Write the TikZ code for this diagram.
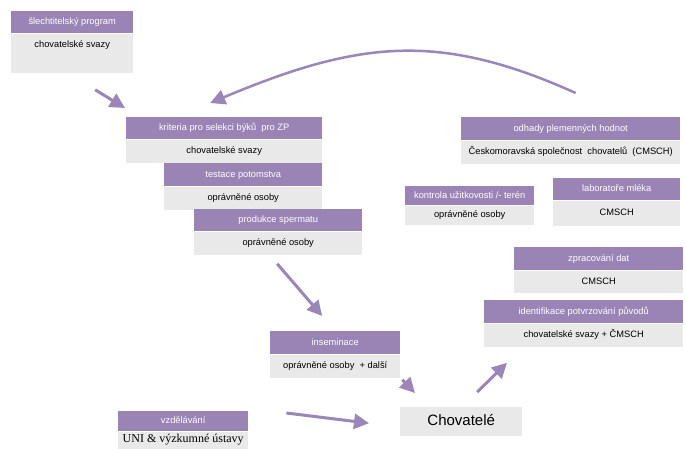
\documentclass[tikz,border=0pt]{standalone}
\usepackage{fontspec}
\setmainfont{Liberation Sans}
\newfontfamily\uniserif{Liberation Serif}
\usetikzlibrary{positioning,arrows.meta}
\definecolor{platehead}{HTML}{9A84B5}
\definecolor{platebody}{HTML}{E9E9E9}
\definecolor{arrowlila}{HTML}{9A86B8}
\tikzset{
    headbox/.style={fill=platehead, text=white, font=\fontsize{9.3}{11}\selectfont,
        inner sep=0pt, anchor=north west, minimum height=22pt, text height=7pt, text depth=2pt},
    bodybox/.style={fill=platebody, text=black, font=\fontsize{9.3}{11}\selectfont,
        inner sep=0pt, minimum height=23pt, text height=7pt, text depth=2pt},
    flow/.style={draw=arrowlila, line width=3pt, -{Triangle[length=15pt,width=15pt]}},
}
\begin{document}
\begin{tikzpicture}[x=1pt, y=-1pt]
        \useasboundingbox (0,0) rectangle (686,448);

        % left column
        \node[headbox, minimum width=122pt] (slech) at (11,11) {šlechtitelský program};
        \node[bodybox, minimum width=122pt, minimum height=39pt, text depth=18pt, below=0pt of slech] (slechB) {chovatelské svazy};

        \node[headbox, minimum width=196pt] (krit) at (126,117) {kriteria pro selekci býků\ \ pro ZP};
        \node[bodybox, minimum width=196pt, below=0pt of krit] (kritB) {chovatelské svazy};

        \node[headbox, minimum width=158pt, minimum height=23pt] (test) at (164,163) {testace potomstva};
        \node[bodybox, minimum width=158pt, below=0pt of test] (testB) {oprávněné osoby};

        \node[headbox, minimum width=168pt] (prod) at (194,209) {produkce spermatu};
        \node[bodybox, minimum width=168pt, below=0pt of prod] (prodB) {oprávněné osoby};

        \node[headbox, minimum width=130pt, minimum height=23pt] (insem) at (270,331) {inseminace};
        \node[bodybox, minimum width=130pt, below=0pt of insem] (insemB) {oprávněné osoby\ \ + další};

        \node[headbox, minimum width=130pt, minimum height=20pt] (vzdel) at (118,411) {vzdělávání};
        \node[bodybox, minimum width=130pt, minimum height=17pt, font=\uniserif\fontsize{12}{14}\selectfont, below=0pt of vzdel] (vzdelB) {UNI \& výzkumné ústavy};

        % right column
        \node[headbox, minimum width=219pt, minimum height=23pt] (odh) at (461,117) {odhady plemenných hodnot};
        \node[bodybox, minimum width=219pt, below=0pt of odh] (odhB) {Českomoravská společnost\ \ chovatelů\ \ (CMSCH)};

        \node[headbox, minimum width=129pt, minimum height=19pt] (kontr) at (405,186) {kontrola užitkovosti /- terén};
        \node[bodybox, minimum width=129pt, minimum height=19pt, below=0pt of kontr] (kontrB) {oprávněné osoby};

        \node[headbox, minimum width=127pt] (lab) at (553,178) {laboratoře mléka};
        \node[bodybox, minimum width=127pt, minimum height=25pt, below=0pt of lab] (labB) {CMSCH};

        \node[headbox, minimum width=169pt, minimum height=23pt] (zprac) at (514,247) {zpracování dat};
        \node[bodybox, minimum width=169pt, minimum height=22pt, below=0pt of zprac] (zpracB) {CMSCH};

        \node[headbox, minimum width=199pt, minimum height=23pt] (ident) at (484,300) {identifikace potvrzování původů};
        \node[bodybox, minimum width=199pt, below=0pt of ident] (identB) {chovatelské svazy + ČMSCH};

        \node[bodybox, anchor=north west, minimum width=122pt, minimum height=29pt, font=\fontsize{15}{18}\selectfont, text height=11pt, text depth=3pt] (chov) at (400,407) {Chovatelé};

        % arrows
        \draw[flow] ([shift={(23,17)}]slechB.south) -- ([shift={(-1,-9)}]krit.north west);
        \draw[flow, line width=2.5pt] ([shift={(5,-24)}]odh.north) .. controls (440,32) and (360,40) .. ([shift={(-14,-14)}]krit.north);
        \draw[flow] ([shift={(-1,9)}]prodB.south) -- ([shift={(-13,-15)}]insem.north);
        \draw[flow] ([shift={(2,2)}]insemB.south east) -- ([shift={(15,-14)}]chov.north west);
        \draw[flow] ([shift={(38,2)}]vzdel.north east) -- ([shift={(-31,1.5)}]chov.west);
        \draw[flow] ([shift={(16,-15)}]chov.north) -- ([shift={(23,16)}]identB.south west);
\end{tikzpicture}
\end{document}
